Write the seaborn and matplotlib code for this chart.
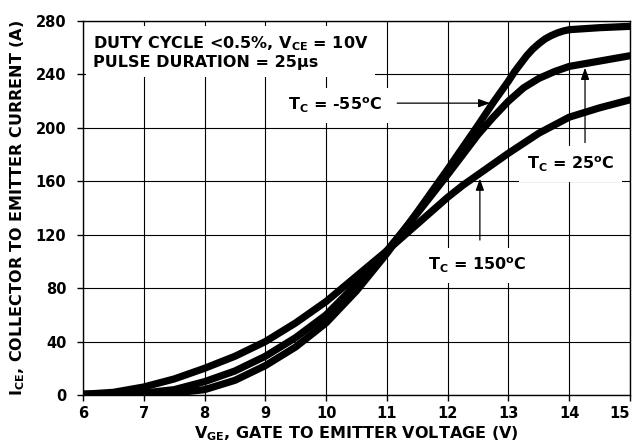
import numpy as np
import pandas as pd
import matplotlib
matplotlib.use("Agg")
import matplotlib.pyplot as plt
import seaborn as sns

# ---- data ----
vge_m55 = [6, 6.5, 7, 7.5, 8, 8.5, 9, 9.5, 10, 10.5, 11, 11.5, 12, 12.5, 12.75, 13,
           13.1, 13.2, 13.3, 13.4, 13.5, 13.6, 13.7, 13.8, 13.9, 14, 14.5, 15]
ice_m55 = [0.5, 0.5, 0.8, 1.5, 4, 11, 22, 36, 54, 78, 106, 137, 169, 202, 219, 235,
           242, 248, 254, 259, 263, 266.5, 269, 271, 272.5, 273.5, 275, 276]

vge_25 = [6, 6.5, 7, 7.5, 8, 8.5, 9, 9.5, 10, 10.5, 11, 11.5, 12, 12.5, 12.75, 13,
          13.25, 13.5, 13.75, 14, 14.5, 15]
ice_25 = [0.5, 0.8, 1.5, 4, 10, 18, 29, 43, 60, 83, 108, 136, 165, 195, 208, 220,
          230, 237, 242, 246, 250, 254]

vge_150 = [6, 6.5, 7, 7.5, 8, 8.5, 9, 9.5, 10, 10.5, 11, 11.5, 12, 12.25, 12.5, 12.75,
           13, 13.5, 14, 14.5, 15]
ice_150 = [0.5, 2, 6, 12, 20, 29, 40, 54, 70, 89, 108, 128, 148, 157, 165, 173,
           181, 196, 208, 215, 221]

x_ticks = [6, 7, 8, 9, 10, 11, 12, 13, 14, 15]
y_ticks = [0, 40, 80, 120, 160, 200, 240, 280]

df = pd.concat([
    pd.DataFrame({"vge": vge_m55, "ice": ice_m55, "tc": "-55"}),
    pd.DataFrame({"vge": vge_25, "ice": ice_25, "tc": "25"}),
    pd.DataFrame({"vge": vge_150, "ice": ice_150, "tc": "150"}),
], ignore_index=True)

sns.set_style("ticks")
plt.rcParams["font.family"] = ["DejaVu Sans"]
plt.rcParams["font.weight"] = "bold"
plt.rcParams["text.color"] = "black"
plt.rcParams["axes.labelcolor"] = "black"
plt.rcParams["xtick.color"] = "black"
plt.rcParams["ytick.color"] = "black"
plt.rcParams["mathtext.fontset"] = "custom"
plt.rcParams["mathtext.rm"] = "DejaVu Sans:bold"
plt.rcParams["mathtext.it"] = "DejaVu Sans:bold"
plt.rcParams["mathtext.bf"] = "DejaVu Sans:bold"
plt.rcParams["mathtext.default"] = "rm"

fig = plt.figure(figsize=(6.37, 4.47), dpi=100)
ax = fig.add_axes([83/637, 1-395/447, (630-83)/637, (395-21)/447])

sns.lineplot(data=df, x="vge", y="ice", hue="tc", palette=["black"]*3,
             linewidth=5.2, legend=False, ax=ax, zorder=5, estimator=None)

ax.set_xlim(6, 15)
ax.set_ylim(0, 280)
ax.set_xticks(x_ticks)
ax.set_yticks(y_ticks)
ax.set_xticklabels([str(t) for t in x_ticks])
ax.set_yticklabels([str(t) for t in y_ticks])
ax.grid(True, color="black", linewidth=0.8)
ax.set_axisbelow(True)
for s in ax.spines.values():
    s.set_color("black")
    s.set_linewidth(1.0)
ax.tick_params(direction="out", length=4, width=1, color="black",
               labelsize=10.5, labelcolor="black", pad=4)
ax.tick_params(axis="y", pad=8)
for lab in ax.get_xticklabels() + ax.get_yticklabels():
    lab.set_fontweight("bold")
    lab.set_color("black")
ax.get_xticklabels()[-1].set_horizontalalignment("right")

ax.set_xlabel("V$_{GE}$, GATE TO EMITTER VOLTAGE (V)", fontsize=11.5,
              fontweight="bold", labelpad=2, color="black")
ax.set_ylabel("I$_{CE}$, COLLECTOR TO EMITTER CURRENT (A)", fontsize=11.5,
              fontweight="bold", labelpad=6, color="black")

box = dict(boxstyle="square,pad=0.5", fc="white", ec="none")

ax.text(6.16, 256.5, "DUTY CYCLE <0.5%, V$_{CE}$ = 10V\nPULSE DURATION = 25\u03bcs",
        fontsize=11.5, fontweight="bold", ha="left", va="center",
        linespacing=1.15, zorder=3, color="black",
        bbox=dict(boxstyle="square,pad=0.45", fc="white", ec="none"))

ax.text(10.92, 217, "T$_{C}$ = -55$^{o}$C", fontsize=11.5, fontweight="bold",
        ha="right", va="center", zorder=3, bbox=box, color="black")
ax.text(14.02, 173, "T$_{C}$ = 25$^{o}$C", fontsize=11.5, fontweight="bold",
        ha="center", va="center", zorder=3, bbox=box, color="black")
ax.text(12.48, 97, "T$_{C}$ = 150$^{o}$C", fontsize=11.5, fontweight="bold",
        ha="center", va="center", zorder=3, bbox=box, color="black")

arrow = dict(arrowstyle="-|>,head_length=0.7,head_width=0.25", color="black",
             lw=0.9, shrinkA=0, shrinkB=0)
ax.annotate("", xy=(12.70, 218.5), xytext=(11.17, 218.5), arrowprops=arrow, zorder=4)
ax.annotate("", xy=(14.26, 245), xytext=(14.26, 189), arrowprops=arrow, zorder=4)
ax.annotate("", xy=(12.53, 162), xytext=(12.53, 116), arrowprops=arrow, zorder=4)

fig.savefig("out.png", dpi=100)
